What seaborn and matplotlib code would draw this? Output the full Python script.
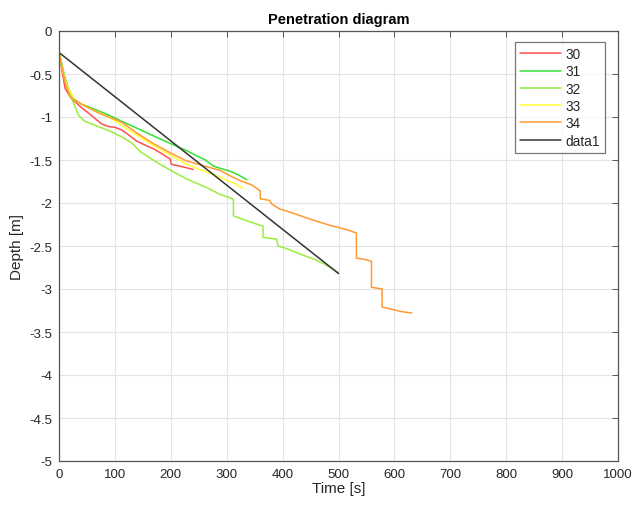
import matplotlib
matplotlib.use("Agg")
import matplotlib.pyplot as plt
import seaborn as sns
import pandas as pd

# ---- data ----
t30 = [0, 5, 11, 23, 40, 52, 65, 76, 88, 100, 112, 125, 139, 155, 169, 185, 199, 201, 215, 228, 240]
d30 = [-0.25, -0.45, -0.67, -0.79, -0.89, -0.95, -1.02, -1.08, -1.11, -1.12, -1.15, -1.21, -1.28, -1.33,
       -1.37, -1.43, -1.49, -1.55, -1.57, -1.59, -1.61]

t31 = [0, 4, 9, 17, 26, 40, 64, 90, 109, 136, 169, 200, 228, 246, 262, 276, 290, 306, 320, 336]
d31 = [-0.25, -0.35, -0.50, -0.67, -0.79, -0.85, -0.91, -0.98, -1.04, -1.12, -1.22, -1.31, -1.39, -1.45,
       -1.50, -1.57, -1.60, -1.63, -1.67, -1.73]

t32 = [0, 3, 8, 15, 23, 35, 46, 70, 90, 112, 130, 145, 166, 181, 200, 228, 246, 264, 288, 306, 312, 312,
       342, 365, 365, 389, 392, 407, 430, 455, 475, 500]
d32 = [-0.25, -0.35, -0.48, -0.65, -0.79, -0.98, -1.05, -1.11, -1.16, -1.23, -1.30, -1.40, -1.49, -1.55,
       -1.62, -1.72, -1.77, -1.82, -1.90, -1.94, -1.96, -2.15, -2.22, -2.27, -2.40, -2.42, -2.50, -2.53,
       -2.59, -2.65, -2.71, -2.81]

t33 = [0, 5, 11, 17, 29, 52, 88, 109, 124, 169, 228, 288, 310, 330]
d33 = [-0.25, -0.42, -0.58, -0.67, -0.81, -0.89, -1.00, -1.08, -1.15, -1.33, -1.55, -1.70, -1.76, -1.83]

t34 = [0, 5, 11, 20, 40, 70, 112, 140, 169, 200, 228, 260, 288, 305, 324, 345, 360, 360, 377, 380, 395,
       415, 437, 460, 485, 503, 520, 532, 532, 550, 559, 559, 578, 578, 592, 610, 631]
d34 = [-0.25, -0.42, -0.60, -0.77, -0.85, -0.95, -1.06, -1.19, -1.31, -1.42, -1.51, -1.57, -1.62, -1.68,
       -1.74, -1.79, -1.86, -1.95, -1.97, -2.01, -2.07, -2.11, -2.16, -2.21, -2.26, -2.29, -2.32, -2.35,
       -2.64, -2.66, -2.68, -2.98, -3.00, -3.21, -3.23, -3.26, -3.28]

t_data1 = [0, 500]
d_data1 = [-0.25, -2.82]

series_names = ["30", "31", "32", "33", "34", "data1"]
series_colors = ["#ff5050", "#33e033", "#99ee40", "#ffff33", "#ff9933", "#333333"]

xticks = [0, 100, 200, 300, 400, 500, 600, 700, 800, 900, 1000]
yticks = [0, -0.5, -1, -1.5, -2, -2.5, -3, -3.5, -4, -4.5, -5]
ytick_labels = ["0", "-0.5", "-1", "-1.5", "-2", "-2.5", "-3", "-3.5", "-4", "-4.5", "-5"]

# ---- build long table ----
frames = []
for name, t, d in zip(series_names, [t30, t31, t32, t33, t34, t_data1],
                      [d30, d31, d32, d33, d34, d_data1]):
    frames.append(pd.DataFrame({"Time": t, "Depth": d, "series": name}))
df = pd.concat(frames, ignore_index=True)

sns.set_style("white")
plt.rcParams["font.family"] = ["Liberation Sans", "DejaVu Sans"]

fig = plt.figure(figsize=(6.35, 5.1), dpi=100)
ax = fig.add_axes([59 / 635, 1 - 462 / 510, (618 - 59) / 635, (462 - 32) / 510])

sns.lineplot(data=df, x="Time", y="Depth", hue="series", hue_order=series_names,
             palette=dict(zip(series_names, series_colors)), sort=False, estimator=None,
             units="series", linewidth=1.1, ax=ax)

axcol = "#262626"
ax.set_xlim(0, 1000)
ax.set_ylim(-5, 0)
ax.set_xticks(xticks)
ax.set_xticklabels([str(v) for v in xticks])
ax.set_yticks(yticks)
ax.set_yticklabels(ytick_labels)
ax.grid(True, color="#e3e3e3", linewidth=0.8)
ax.set_axisbelow(True)
for s in ax.spines.values():
    s.set_visible(True)
    s.set_color("#555555")
    s.set_linewidth(0.9)
ax.tick_params(direction="in", top=True, right=True, length=4, width=0.7, color="#555555",
               labelsize=9.5, labelcolor=axcol, pad=5)
ax.set_xlabel("Time [s]", fontsize=11, color=axcol, labelpad=1)
ax.set_ylabel("Depth [m]", fontsize=11, color=axcol, labelpad=4)
ax.set_title("Penetration diagram", fontsize=10.5, fontweight="bold", color="black", pad=6)

handles, labels = ax.get_legend_handles_labels()
leg = ax.legend(handles, labels, loc="upper right", bbox_to_anchor=(0.977, 0.975),
                fontsize=9.8, frameon=True, fancybox=False, edgecolor="#555555",
                handlelength=3.0, borderpad=0.4, labelspacing=0.24, handletextpad=0.3,
                borderaxespad=0)
leg.get_frame().set_linewidth(0.9)
for line in leg.get_lines():
    line.set_linewidth(1.1)

fig.savefig("out.png", dpi=100)
